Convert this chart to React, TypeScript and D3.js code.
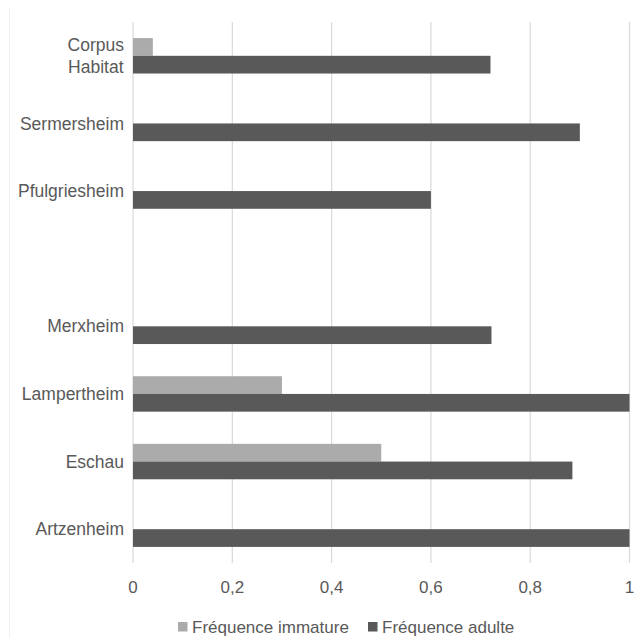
import React, { useEffect, useRef } from "react";
import * as d3 from "d3";

const categories: string[][] = [
  ["Corpus", "Habitat"],
  ["Sermersheim"],
  ["Pfulgriesheim"],
  [""],
  ["Merxheim"],
  ["Lampertheim"],
  ["Eschau"],
  ["Artzenheim"],
];
const immature: (number | null)[] = [0.04, null, null, null, null, 0.3, 0.5, null];
const adulte: (number | null)[] = [0.72, 0.9, 0.6, null, 0.722, 1, 0.885, 1];
const xTicks: number[] = [0, 0.2, 0.4, 0.6, 0.8, 1];
const seriesNames: string[] = ["Fréquence immature", "Fréquence adulte"];
const seriesColors: string[] = ["#ababab", "#595959"];

const W = 638;
const H = 638;
const FONT = "'Liberation Sans', Arial, sans-serif";

export default function App() {
  const ref = useRef<SVGSVGElement>(null);

  useEffect(() => {
    const svg = d3.select(ref.current);
    svg.selectAll("*").remove();

    const left = 133, right = 629.5, top = 22, bottom = 563;
    const x = d3.scaleLinear().domain([0, 1]).range([left, right]);
    const ids = categories.map((_, i) => String(i));
    const y = d3.scaleBand<string>().domain(ids).range([top, bottom]).paddingInner(0.476).paddingOuter(0.238);
    const sub = d3.scaleBand<string>().domain(["imm", "adu"]).range([0, y.bandwidth()]);

    svg.append("rect").attr("x", 0).attr("y", 0).attr("width", W).attr("height", H).attr("fill", "#fff");
    svg.append("line").attr("x1", 9.5).attr("x2", 9.5).attr("y1", 8).attr("y2", 638).attr("stroke", "#f0f0f0");

    // grid
    svg.append("g").selectAll("line").data(xTicks).join("line")
      .attr("x1", (d) => x(d)).attr("x2", (d) => x(d))
      .attr("y1", top).attr("y2", bottom)
      .attr("stroke", "#d9d9d9").attr("stroke-width", 1.2);

    // bars
    const series = [
      { key: "imm", vals: immature, color: seriesColors[0] },
      { key: "adu", vals: adulte, color: seriesColors[1] },
    ];
    series.forEach((s) => {
      svg.append("g").selectAll("rect")
        .data(s.vals.map((v, i) => ({ v, i })).filter((d) => d.v != null))
        .join("rect")
        .attr("x", x(0))
        .attr("y", (d) => (y(String(d.i)) as number) + (sub(s.key) as number))
        .attr("width", (d) => x(d.v as number) - x(0))
        .attr("height", sub.bandwidth())
        .attr("fill", s.color);
    });

    // category labels
    const lineH = 22;
    const labelRight = 124;
    categories.forEach((lines, i) => {
      const cy = (y(String(i)) as number) + y.bandwidth() / 2;
      const g = svg.append("g");
      const texts = lines.map((ln, j) =>
        g.append("text")
          .attr("y", cy + (j - (lines.length - 1) / 2) * lineH)
          .attr("dy", "0.35em")
          .attr("font-family", FONT)
          .attr("font-size", 17.5)
          .attr("fill", "#595959")
          .attr("text-anchor", "middle")
          .text(ln)
      );
      const widths = texts.map((t) => (t.node() as SVGTextElement).getComputedTextLength());
      const maxW = Math.max(...widths, 0);
      texts.forEach((t) => t.attr("x", labelRight - maxW / 2));
    });

    // x tick labels
    svg.append("g").selectAll("text").data(xTicks).join("text")
      .attr("x", (d) => x(d)).attr("y", 593)
      .attr("text-anchor", "middle")
      .attr("font-family", FONT).attr("font-size", 17).attr("fill", "#595959")
      .text((d) => (d === 0 || d === 1 ? String(d) : String(d).replace(".", ",")));

    // legend
    const legY = 627;
    const items = [
      { sx: 178, name: seriesNames[0], color: seriesColors[0] },
      { sx: 368, name: seriesNames[1], color: seriesColors[1] },
    ];
    items.forEach((it) => {
      svg.append("rect").attr("x", it.sx).attr("y", legY - 5).attr("width", 9.5).attr("height", 9.5).attr("fill", it.color);
      svg.append("text").attr("x", it.sx + 14).attr("y", legY).attr("dy", "0.35em")
        .attr("font-family", FONT).attr("font-size", 17).attr("fill", "#595959").text(it.name);
    });
  }, []);

  return (
    <svg ref={ref} width={W} height={H} style={{ position: "absolute", left: 0, top: 0, display: "block" }} />
  );
}
